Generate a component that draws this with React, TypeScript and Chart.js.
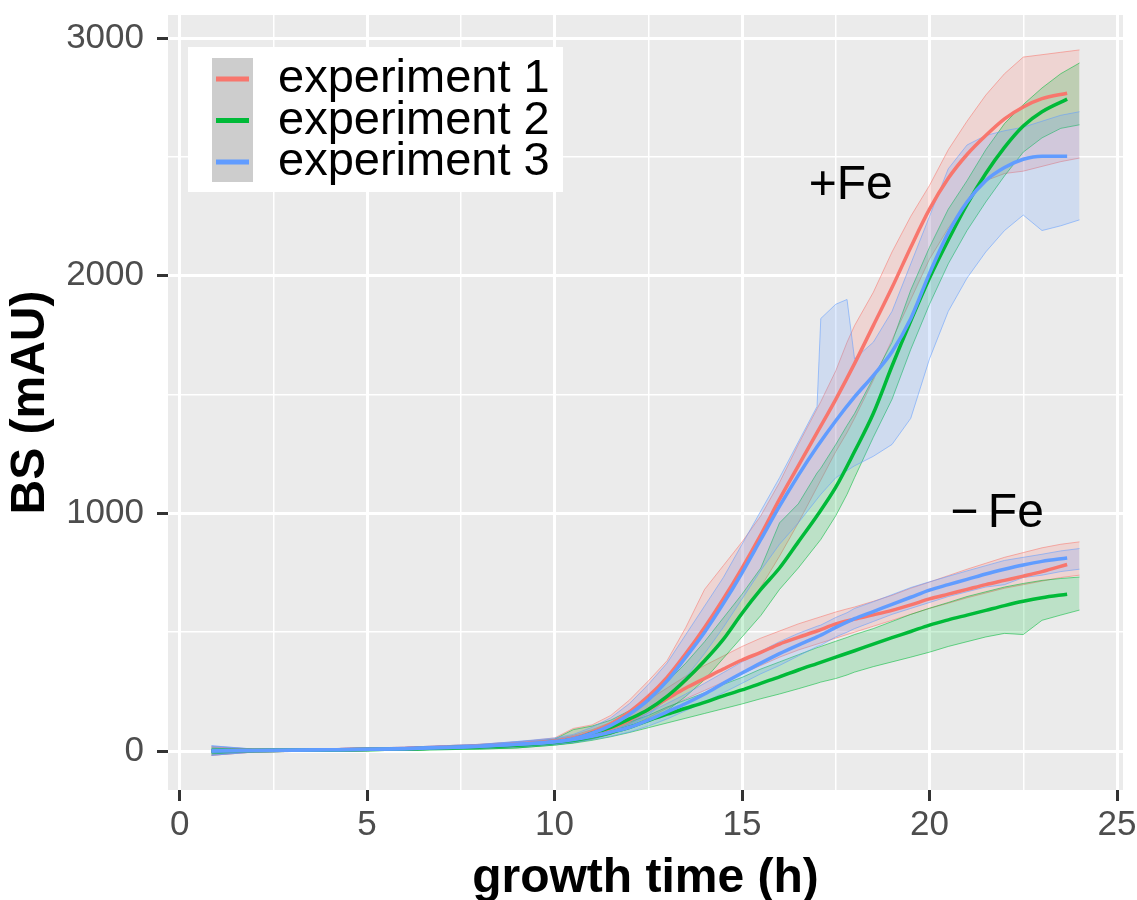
import React, { useEffect, useRef } from "react";
import { Chart, registerables } from "chart.js";

Chart.register(...registerables);

// ---------- data ----------
const seriesNames = ["experiment 1", "experiment 2", "experiment 3"];
const seriesColors = ["#F8766D", "#00BA38", "#619CFF"];

// smoothed curves (time in h)
const smoothTime = [0.85, 2, 4, 6, 8, 9, 10, 10.5, 11, 11.5, 12, 12.5, 13, 13.5, 14, 14.5, 15, 15.5, 16, 16.5, 17, 17.5, 18, 18.5, 19, 19.5, 20, 20.5, 21, 21.5, 22, 22.5, 23, 23.67];

const exp1PlusFe = [0, 2, 5, 10, 20, 28, 42, 55, 80, 115, 165, 230, 310, 410, 520, 640, 770, 910, 1060, 1200, 1340, 1480, 1630, 1790, 1950, 2120, 2280, 2410, 2510, 2590, 2660, 2710, 2745, 2768];
const exp2PlusFe = [0, 2, 4, 9, 18, 25, 38, 50, 75, 100, 135, 175, 230, 300, 380, 470, 580, 680, 770, 880, 990, 1110, 1260, 1420, 1620, 1810, 1990, 2150, 2300, 2430, 2540, 2630, 2690, 2743];
const exp3PlusFe = [0, 2, 5, 10, 20, 28, 40, 52, 75, 108, 155, 215, 295, 395, 500, 620, 750, 890, 1030, 1160, 1280, 1390, 1490, 1580, 1680, 1820, 2010, 2180, 2310, 2400, 2455, 2490, 2503, 2503];

const exp1MinusFe = [0, 2, 5, 10, 20, 28, 40, 52, 70, 95, 130, 175, 220, 265, 305, 345, 383, 415, 450, 478, 505, 535, 555, 573, 592, 615, 640, 660, 680, 700, 718, 736, 755, 785];
const exp2MinusFe = [0, 2, 4, 9, 18, 25, 36, 45, 60, 78, 100, 128, 155, 180, 205, 232, 257, 285, 312, 341, 368, 395, 422, 450, 477, 503, 530, 552, 572, 592, 612, 630, 645, 660];
const exp3MinusFe = [0, 2, 5, 10, 20, 28, 38, 48, 62, 80, 100, 130, 165, 200, 240, 285, 328, 370, 410, 446, 480, 520, 557, 587, 617, 647, 677, 700, 722, 745, 765, 783, 798, 812];

// ribbons (lower / upper envelopes of replicate measurements)
const bandTime = [0.85, 2, 4, 6, 8, 9, 10, 10.5, 11, 11.5, 12, 12.5, 13, 13.5, 14, 14.5, 15, 15.5, 16, 16.5, 17, 17.1, 17.5, 17.8, 18, 18.5, 19, 19.5, 20, 20.5, 21, 21.5, 22, 22.5, 23, 23.5, 24];

const exp1PlusFeLow = [-18, -4, 0, 4, 12, 18, 30, 40, 55, 80, 115, 160, 215, 290, 370, 470, 570, 690, 820, 960, 1110, 1140, 1260, 1340, 1400, 1560, 1730, 1900, 2070, 2200, 2310, 2400, 2430, 2440, 2460, 2480, 2495];
const exp1PlusFeHigh = [18, 8, 10, 16, 28, 38, 55, 95, 110, 150, 215, 295, 380, 520, 680, 780, 880, 990, 1130, 1290, 1440, 1470, 1600, 1720, 1790, 1930, 2100, 2250, 2380, 2530, 2650, 2760, 2850, 2920, 2930, 2940, 2950];
const exp2PlusFeLow = [-12, -3, 0, 3, 8, 13, 25, 35, 50, 70, 100, 130, 170, 230, 300, 390, 480, 570, 680, 770, 870, 890, 990, 1080, 1150, 1320, 1480, 1690, 1880, 2050, 2190, 2310, 2420, 2520, 2580, 2620, 2635];
const exp2PlusFeHigh = [12, 6, 8, 13, 22, 30, 50, 90, 105, 130, 170, 220, 290, 370, 460, 560, 660, 770, 960, 1040, 1170, 1190, 1290, 1370, 1420, 1570, 1720, 1940, 2120, 2280, 2400, 2530, 2640, 2720, 2790, 2850, 2895];
const exp3PlusFeLow = [-18, -4, 0, 4, 12, 18, 28, 38, 55, 80, 110, 150, 220, 310, 410, 520, 640, 760, 870, 960, 1060, 1080, 1150, 1180, 1200, 1240, 1290, 1400, 1650, 1850, 1990, 2100, 2190, 2255, 2190, 2210, 2235];
const exp3PlusFeHigh = [22, 8, 10, 16, 28, 40, 55, 70, 100, 140, 200, 280, 370, 490, 610, 730, 870, 1010, 1150, 1300, 1450, 1820, 1880, 1900, 1650, 1720, 1850, 2050, 2250, 2450, 2550, 2590, 2610, 2625, 2650, 2675, 2690];

const exp1MinusFeLow = [-18, -4, 0, 4, 12, 18, 28, 38, 52, 72, 100, 140, 180, 220, 255, 290, 325, 360, 395, 425, 450, 455, 475, 490, 500, 525, 550, 575, 600, 622, 645, 665, 685, 700, 715, 730, 740];
const exp1MinusFeHigh = [18, 8, 10, 16, 28, 38, 50, 66, 90, 120, 165, 215, 265, 315, 360, 400, 440, 475, 505, 535, 560, 565, 585, 598, 606, 630, 655, 685, 711, 738, 765, 790, 815, 835, 855, 870, 880];
const exp2MinusFeLow = [-12, -3, 0, 3, 8, 13, 25, 33, 45, 60, 78, 98, 118, 138, 158, 178, 198, 220, 240, 262, 285, 290, 305, 320, 332, 355, 375, 395, 416, 440, 460, 480, 495, 490, 550, 572, 593];
const exp2MinusFeHigh = [12, 6, 8, 13, 22, 30, 45, 58, 75, 98, 122, 150, 185, 215, 245, 280, 310, 345, 375, 405, 435, 440, 462, 478, 490, 515, 545, 575, 601, 625, 650, 670, 690, 705, 718, 726, 732];
const exp3MinusFeLow = [-18, -4, 0, 4, 12, 18, 28, 36, 48, 62, 80, 105, 135, 170, 205, 245, 285, 325, 360, 400, 440, 445, 480, 500, 515, 545, 575, 600, 625, 650, 670, 690, 700, 730, 740, 755, 765];
const exp3MinusFeHigh = [22, 8, 10, 16, 28, 40, 50, 62, 78, 100, 125, 160, 200, 240, 285, 330, 375, 420, 460, 495, 525, 530, 562, 582, 600, 628, 658, 688, 712, 735, 758, 780, 802, 815, 828, 842, 852];

// axes
const xTicks = [0, 2.5, 5, 7.5, 10, 12.5, 15, 17.5, 20, 22.5, 25];
const xMajorTicks = [0, 5, 10, 15, 20, 25];
const yTicks = [0, 500, 1000, 1500, 2000, 2500, 3000];
const yMajorTicks = [0, 1000, 2000, 3000];
const xLimits = [-0.31, 25.16];
const yLimits = [-164, 3097];

const annotationLabels = ["+Fe", "\u2212\u2009Fe"];
const annotationX = [17.9, 21.8];
const annotationY = [2380, 1000];

const FONT = "'Liberation Sans', Arial, Helvetica, sans-serif";

function rgba(hex: string, a: number) {
  const n = parseInt(hex.slice(1), 16);
  return `rgba(${(n >> 16) & 255},${(n >> 8) & 255},${n & 255},${a})`;
}
const toXY = (t: number[], v: number[]) => t.map((x, i) => ({ x, y: v[i] }));

export default function App() {
  const ref = useRef<HTMLCanvasElement>(null);

  useEffect(() => {
    const canvas = ref.current!;
    const smooth = [
      [exp1PlusFe, exp1MinusFe],
      [exp2PlusFe, exp2MinusFe],
      [exp3PlusFe, exp3MinusFe],
    ];
    const bands = [
      [[exp1PlusFeLow, exp1PlusFeHigh], [exp1MinusFeLow, exp1MinusFeHigh]],
      [[exp2PlusFeLow, exp2PlusFeHigh], [exp2MinusFeLow, exp2MinusFeHigh]],
      [[exp3PlusFeLow, exp3PlusFeHigh], [exp3MinusFeLow, exp3MinusFeHigh]],
    ];
    const datasets: any[] = [];
    // smoothed lines: experiment 3 first so it is drawn on top
    for (let s = 2; s >= 0; s--) {
      smooth[s].forEach((vals, k) => {
        datasets.push({
          label: seriesNames[s] + (k === 0 ? " +Fe" : " -Fe"),
          data: toXY(smoothTime, vals),
          borderColor: seriesColors[s],
          borderWidth: 3.5,
          pointRadius: 0,
          cubicInterpolationMode: "monotone",
          fill: false,
          order: 0,
        });
      });
    }
    for (let s = 2; s >= 0; s--) {
      bands[s].forEach(([lo, hi], k) => {
        datasets.push({
          label: seriesNames[s] + (k === 0 ? " +Fe low" : " -Fe low"),
          data: toXY(bandTime, lo),
          borderColor: rgba(seriesColors[s], 0.55),
          borderWidth: 1,
          pointRadius: 0,
          tension: 0,
          fill: false,
          order: 1,
        });
        datasets.push({
          label: seriesNames[s] + (k === 0 ? " +Fe high" : " -Fe high"),
          data: toXY(bandTime, hi),
          borderColor: rgba(seriesColors[s], 0.55),
          backgroundColor: rgba(seriesColors[s], 0.2),
          borderWidth: 1,
          pointRadius: 0,
          tension: 0,
          fill: "-1",
          order: 1,
        });
      });
    }

    const panelBg = {
      id: "panelBg",
      beforeDraw(chart: any) {
        const { ctx, chartArea } = chart;
        ctx.save();
        ctx.fillStyle = "#FFFFFF";
        ctx.fillRect(0, 0, chart.width, chart.height);
        ctx.fillStyle = "#EBEBEB";
        ctx.fillRect(chartArea.left, chartArea.top, chartArea.right - chartArea.left, chartArea.bottom - chartArea.top);
        ctx.restore();
      },
    };

    const textAndLegend = {
      id: "textAndLegend",
      afterDatasetsDraw(chart: any) {
        const { ctx, scales } = chart;
        ctx.save();
        ctx.fillStyle = "#000000";
        ctx.font = `48px ${FONT}`;
        ctx.textAlign = "center";
        ctx.textBaseline = "middle";
        annotationLabels.forEach((lab, i) => {
          ctx.fillText(lab, scales.x.getPixelForValue(annotationX[i]), scales.y.getPixelForValue(annotationY[i]));
        });
        ctx.restore();
      },
      afterDraw(chart: any) {
        const { ctx } = chart;
        ctx.save();
        // legend box
        ctx.fillStyle = "#FFFFFF";
        ctx.fillRect(188, 47, 375, 145);
        ctx.fillStyle = "#CDCDCD";
        ctx.fillRect(212, 58, 41, 124);
        const rowBase = [92, 133.5, 175];
        const rowMid = [79, 120.5, 162];
        seriesNames.forEach((name, i) => {
          ctx.strokeStyle = seriesColors[i];
          ctx.lineWidth = 5;
          ctx.beginPath();
          ctx.moveTo(216, rowMid[i]);
          ctx.lineTo(249, rowMid[i]);
          ctx.stroke();
          ctx.fillStyle = "#000000";
          ctx.font = `47px ${FONT}`;
          ctx.textAlign = "left";
          ctx.textBaseline = "alphabetic";
          ctx.fillText(name, 278, rowBase[i]);
        });
        ctx.restore();
      },
    };

    const noPad = (s: any) => {
      s.paddingTop = 0;
      s.paddingBottom = 0;
      s.paddingLeft = 0;
      s.paddingRight = 0;
    };

    const chart = new Chart(canvas, {
      type: "line",
      data: { datasets },
      plugins: [panelBg, textAndLegend],
      options: {
        responsive: false,
        animation: false,
        devicePixelRatio: 1,
        layout: { padding: { left: 0, right: 14, top: 15, bottom: 0 } },
        plugins: { legend: { display: false }, tooltip: { enabled: false } },
        elements: { point: { radius: 0 } },
        scales: {
          x: {
            type: "linear",
            min: xLimits[0],
            max: xLimits[1],
            afterBuildTicks: (s: any) => {
              s.ticks = xTicks.map((v) => ({ value: v }));
            },
            afterFit: (s: any) => {
              s.height = 110;
              noPad(s);
            },
            border: { display: false },
            grid: {
              color: "#FFFFFF",
              lineWidth: (c: any) => (xMajorTicks.includes(c.tick?.value) ? 3 : 1.5),
              tickColor: (c: any) => (xMajorTicks.includes(c.tick?.value) ? "#333333" : "rgba(0,0,0,0)"),
              tickLength: 11,
              tickWidth: 3,
            },
            ticks: {
              autoSkip: false,
              maxRotation: 0,
              padding: 3,
              color: "#4D4D4D",
              font: { family: FONT, size: 35 },
              callback: (v: any) => (xMajorTicks.includes(Number(v)) ? String(v) : ""),
            },
            title: {
              display: true,
              text: "growth time (h)",
              color: "#000000",
              font: { family: FONT, size: 48, weight: "bold", lineHeight: 1 },
              padding: { top: 0, bottom: -3 },
            },
          },
          y: {
            type: "linear",
            min: yLimits[0],
            max: yLimits[1],
            afterBuildTicks: (s: any) => {
              s.ticks = yTicks.map((v) => ({ value: v }));
            },
            afterFit: (s: any) => {
              s.width = 168;
              noPad(s);
            },
            border: { display: false },
            grid: {
              color: "#FFFFFF",
              lineWidth: (c: any) => (yMajorTicks.includes(c.tick?.value) ? 3 : 1.5),
              tickColor: (c: any) => (yMajorTicks.includes(c.tick?.value) ? "#333333" : "rgba(0,0,0,0)"),
              tickLength: 11,
              tickWidth: 3,
            },
            ticks: {
              autoSkip: false,
              padding: 13,
              color: "#4D4D4D",
              font: { family: FONT, size: 35 },
              callback: (v: any) => (yMajorTicks.includes(Number(v)) ? String(v) : ""),
            },
            title: {
              display: true,
              text: "BS (mAU)",
              color: "#000000",
              font: { family: FONT, size: 48, weight: "bold", lineHeight: 1 },
              padding: { top: 7, bottom: 0 },
            },
          },
        },
      } as any,
    });
    return () => chart.destroy();
  }, []);

  return (
    <div style={{ position: "fixed", left: 0, top: 0, width: 1137, height: 900, background: "#FFFFFF" }}>
      <canvas ref={ref} width={1137} height={900} style={{ display: "block" }} />
    </div>
  );
}
